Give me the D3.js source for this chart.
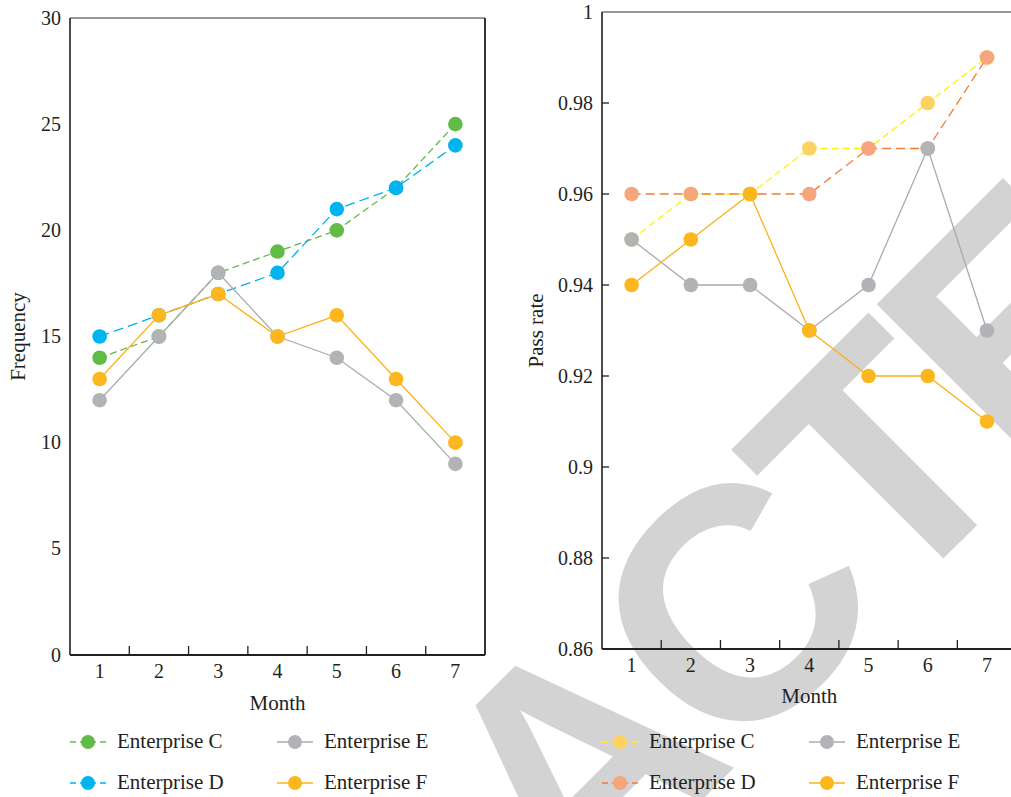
<!DOCTYPE html>
<html>
<head>
<meta charset="utf-8">
<script src="https://cdn.jsdelivr.net/npm/d3@7"></script>
<style>
  body { margin: 0; background: #fff; }
  svg text { font-family: "Liberation Serif", "Times New Roman", serif; fill: #231f20; }
</style>
</head>
<body>
<svg id="chart" width="1011" height="797" font-family="Liberation Serif, serif"></svg>
<script>
// data
const months = [1, 2, 3, 4, 5, 6, 7];
const seriesNames = ["Enterprise C", "Enterprise D", "Enterprise E", "Enterprise F"];

const freqC = [14, 15, 18, 19, 20, 22, 25];
const freqD = [15, 16, 17, 18, 21, 22, 24];
const freqE = [12, 15, 18, 15, 14, 12, 9];
const freqF = [13, 16, 17, 15, 16, 13, 10];
const freqTicks = [0, 5, 10, 15, 20, 25, 30];

const passC = [0.95, 0.96, 0.96, 0.97, 0.97, 0.98, 0.99];
const passD = [0.96, 0.96, 0.96, 0.96, 0.97, 0.97, 0.99];
const passE = [0.95, 0.94, 0.94, 0.93, 0.94, 0.97, 0.93];
const passF = [0.94, 0.95, 0.96, 0.93, 0.92, 0.92, 0.91];
const passTicks = [0.86, 0.88, 0.9, 0.92, 0.94, 0.96, 0.98, 1];

const svg = d3.select("#chart");

// watermark, behind everything
const wm = svg.append("g");
const wmText = wm.append("text")
    .text("RETRACTED")
    .style("font-family", "'Liberation Sans', Arial, sans-serif")
    .style("font-weight", "bold")
    .style("font-size", "330px")
    .style("letter-spacing", "-14px")
    .style("fill", "#d3d3d3");
// put the second T where it sits in the picture
const tPos = wmText.node().getStartPositionOfChar(6);
wm.attr("transform", `translate(889,613) rotate(-45) translate(${-tPos.x},0)`);

function drawPanel(p) {
    const g = svg.append("g");
    const x = d3.scaleBand().domain(months).range([p.left, p.right]);
    const y = d3.scaleLinear().domain(p.domain).range([p.bottom, p.top]);

    // frame
    g.append("line").attr("x1", p.left).attr("x2", p.right).attr("y1", p.top).attr("y2", p.top)
        .attr("stroke", "#333").attr("stroke-width", 1.2);
    g.append("line").attr("x1", p.right).attr("x2", p.right).attr("y1", p.top).attr("y2", p.bottom)
        .attr("stroke", "#333").attr("stroke-width", 2);
    g.append("line").attr("x1", p.left).attr("x2", p.left).attr("y1", p.top).attr("y2", p.bottom)
        .attr("stroke", "#231f20").attr("stroke-width", 1.6);

    // x axis: ticks at band edges pointing in
    const xAxis = g.append("g").attr("transform", `translate(0,${p.bottom})`);
    xAxis.append("line").attr("x1", p.left).attr("x2", p.right)
        .attr("stroke", "#231f20").attr("stroke-width", 2.2);
    xAxis.selectAll(".tk").data(months.slice(1)).enter().append("line")
        .attr("x1", d => x(d)).attr("x2", d => x(d))
        .attr("y1", 0).attr("y2", -9)
        .attr("stroke", "#231f20").attr("stroke-width", 1.3);
    xAxis.selectAll(".lb").data(months).enter().append("text")
        .attr("x", d => x(d) + x.bandwidth() / 2)
        .attr("y", p.xLabelY - p.bottom)
        .attr("text-anchor", "middle")
        .style("font-size", "20px")
        .text(d => d);

    // y axis labels
    const yAxis = g.append("g");
    yAxis.selectAll("text").data(p.ticks).enter().append("text")
        .attr("x", p.left - 9)
        .attr("y", d => y(d))
        .attr("dy", "0.33em")
        .attr("text-anchor", "end")
        .style("font-size", "20px")
        .text(d => d3.format(p.fmt)(d));
    if (p.yTicks) {
        yAxis.selectAll("line").data(p.ticks.slice(1, -1)).enter().append("line")
            .attr("x1", p.left).attr("x2", p.left + 7)
            .attr("y1", d => y(d)).attr("y2", d => y(d))
            .attr("stroke", "#231f20").attr("stroke-width", 1.3);
    }

    // titles
    g.append("text")
        .attr("x", (p.left + p.right) / 2).attr("y", p.titleY)
        .attr("text-anchor", "middle").style("font-size", "21px")
        .text("Month");
    g.append("text")
        .attr("transform", `translate(${p.yTitleX},${(p.top + p.bottom) / 2}) rotate(-90)`)
        .attr("text-anchor", "middle").style("font-size", "21px")
        .text(p.yTitle);

    // series
    const line = d3.line().x((d, i) => x(months[i]) + x.bandwidth() / 2).y(d => y(d));
    p.series.forEach(s => {
        g.append("path").datum(s.values)
            .attr("d", line)
            .attr("fill", "none")
            .attr("stroke", s.line)
            .attr("stroke-width", 1.3)
            .attr("stroke-dasharray", s.dash || null);
        g.selectAll(null).data(s.values).enter().append("circle")
            .attr("cx", (d, i) => x(months[i]) + x.bandwidth() / 2)
            .attr("cy", d => y(d))
            .attr("r", 7.3)
            .attr("fill", s.marker);
    });

    // legend (2 x 2)
    const order = [0, 2, 1, 3];
    order.forEach((si, k) => {
        const s = p.series[si];
        const lx = p.left + (k % 2) * 207;
        const ly = 742 + Math.floor(k / 2) * 41;
        const lg = g.append("g").attr("transform", `translate(${lx},${ly})`);
        lg.append("line").attr("x1", 0).attr("x2", 36).attr("y1", 0).attr("y2", 0)
            .attr("stroke", s.line).attr("stroke-width", 1.3)
            .attr("stroke-dasharray", s.dash ? "6,4" : null);
        lg.append("circle").attr("cx", 18).attr("cy", 0).attr("r", 7).attr("fill", s.marker);
        lg.append("text").attr("x", 47).attr("y", 6).style("font-size", "21px").text(seriesNames[si]);
    });
}

drawPanel({
    left: 70, right: 485, top: 18, bottom: 655,
    domain: [0, 30], ticks: freqTicks, fmt: "d", yTicks: false,
    xLabelY: 678, titleY: 710, yTitle: "Frequency", yTitleX: 25,
    series: [
        {values: freqC, line: "#62b946", marker: "#62bb46", dash: "7,4"},
        {values: freqD, line: "#00b0ee", marker: "#00b4f0", dash: "10,5"},
        {values: freqE, line: "#a9abae", marker: "#b1b3b6"},
        {values: freqF, line: "#fbb21a", marker: "#fdb71e"}
    ]
});

drawPanel({
    left: 602, right: 1016.6, top: 12, bottom: 649,
    domain: [0.86, 1], ticks: passTicks, fmt: "", yTicks: true,
    xLabelY: 672, titleY: 703, yTitle: "Pass rate", yTitleX: 543,
    series: [
        {values: passC, line: "#fff200", marker: "#fdd162", dash: "7,4"},
        {values: passD, line: "#f47c35", marker: "#f6a67c", dash: "9,5"},
        {values: passE, line: "#a9abae", marker: "#b1b3b6"},
        {values: passF, line: "#fbb21a", marker: "#fdb71e"}
    ]
});
</script>
</body>
</html>
